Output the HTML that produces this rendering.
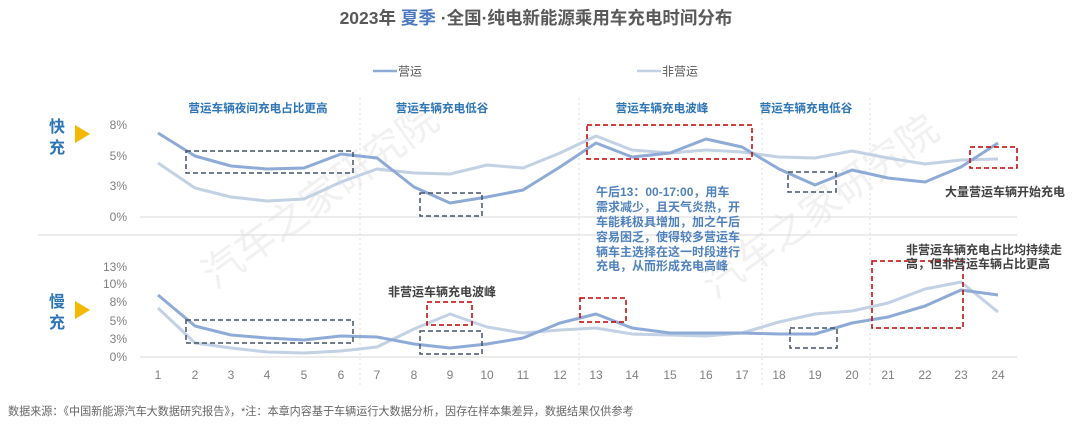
<!DOCTYPE html>
<html><head><meta charset="utf-8"><style>
html,body{margin:0;padding:0;background:#fff;}
svg{display:block;font-family:"Liberation Sans","Noto Sans CJK SC",sans-serif;}
</style></head><body>
<svg width="1080" height="425" viewBox="0 0 1080 425" xmlns="http://www.w3.org/2000/svg">
<rect width="1080" height="425" fill="#fff"/>
<!-- watermark -->
<g fill="#f1f1f1" font-size="40" font-family="'Liberation Sans','Noto Sans CJK SC',sans-serif">
<text x="0" y="0" transform="translate(215,290) rotate(-36)">汽车之家研究院</text>
<text x="0" y="0" transform="translate(715,300) rotate(-36)">汽车之家研究院</text>
</g>
<!-- title -->
<text x="536" y="24" text-anchor="middle" font-size="17.5" font-weight="bold" fill="#595959">2023年 <tspan fill="#4a78c2">夏季</tspan> ·全国·纯电新能源乘用车充电时间分布</text>
<!-- legend -->
<line x1="373" y1="71" x2="397" y2="71" stroke="#8eaad6" stroke-width="2.5"/>
<text x="398" y="75.5" font-size="12" fill="#595959">营运</text>
<line x1="637" y1="71" x2="661" y2="71" stroke="#c3d1e4" stroke-width="2.5"/>
<text x="662" y="75.5" font-size="12" fill="#595959">非营运</text>
<!-- vertical separators -->
<g stroke="#dcdcdc" stroke-width="1" stroke-dasharray="2,3">
<line x1="360" y1="98" x2="360" y2="385"/>
<line x1="579" y1="98" x2="579" y2="385"/>
<line x1="762" y1="98" x2="762" y2="385"/>
<line x1="870" y1="98" x2="870" y2="385"/>
</g>
<!-- section labels -->
<g font-size="11.6" font-weight="bold" fill="#2e75b6" text-anchor="middle">
<text x="258" y="112">营运车辆夜间充电占比更高</text>
<text x="442" y="112">营运车辆充电低谷</text>
<text x="662" y="112">营运车辆充电波峰</text>
<text x="806" y="112">营运车辆充电低谷</text>
</g>
<!-- left labels -->
<g font-size="16" font-weight="bold" fill="#2e75b6">
<text x="49" y="132">快</text>
<text x="49" y="153">充</text>
<text x="49" y="307">慢</text>
<text x="49" y="328">充</text>
</g>
<polygon points="75,125 90,134 75,143" fill="#f5b800"/>
<polygon points="75,301 90,310 75,319" fill="#f5b800"/>
<!-- axes lines -->
<g stroke="#d9d9d9" stroke-width="1">
<line x1="140" y1="217" x2="1017" y2="217"/>
<line x1="38" y1="235" x2="1017" y2="235"/>
<line x1="140" y1="357" x2="1017" y2="357"/>
</g>
<!-- y tick labels -->
<g font-size="12" fill="#7f7f7f" text-anchor="end">
<text x="127" y="129">8%</text>
<text x="127" y="160">5%</text>
<text x="127" y="190">3%</text>
<text x="127" y="221">0%</text>
<text x="127" y="271">13%</text>
<text x="127" y="288">10%</text>
<text x="127" y="306">8%</text>
<text x="127" y="325">5%</text>
<text x="127" y="343">3%</text>
<text x="127" y="361">0%</text>
</g>
<!-- x labels -->
<g font-size="12" fill="#7f7f7f" text-anchor="middle">
<text x="158" y="379">1</text><text x="195" y="379">2</text><text x="231" y="379">3</text><text x="267" y="379">4</text>
<text x="304" y="379">5</text><text x="341" y="379">6</text><text x="377" y="379">7</text><text x="414" y="379">8</text>
<text x="450" y="379">9</text><text x="487" y="379">10</text><text x="523" y="379">11</text><text x="560" y="379">12</text>
<text x="596" y="379">13</text><text x="632" y="379">14</text><text x="670" y="379">15</text><text x="706" y="379">16</text>
<text x="742" y="379">17</text><text x="779" y="379">18</text><text x="815" y="379">19</text><text x="852" y="379">20</text>
<text x="888" y="379">21</text><text x="925" y="379">22</text><text x="961" y="379">23</text><text x="998" y="379">24</text>
</g>
<!-- top chart series -->
<polyline fill="none" stroke="#c3d1e4" stroke-width="3" stroke-linejoin="round" points="158,163 195,188 231,197 267,201 304,199 341,182 377,169 414,173 450,174 487,165 523,168 560,153 596,136 632,150 670,153 706,150 742,152 779,157 815,158 852,151 888,158 925,164 961,160 998,159"/>
<polyline fill="none" stroke="#8eaad6" stroke-width="3" stroke-linejoin="round" points="158,133 195,156 231,166 267,169 304,168 341,154 377,158 414,187 450,203 487,197 523,190 560,167 596,143 632,157 670,153 706,139 742,147 779,169 815,185 852,170 888,178 925,182 961,167 998,143"/>
<!-- bottom chart series -->
<polyline fill="none" stroke="#c3d1e4" stroke-width="3" stroke-linejoin="round" points="158,308 195,343 231,348 267,352 304,353 341,351 377,347 414,329 450,314 487,327 523,333 560,330 596,328 632,334 670,335 706,336 742,333 779,322 815,314 852,311 888,303 925,289 961,282 998,312"/>
<polyline fill="none" stroke="#8eaad6" stroke-width="3" stroke-linejoin="round" points="158,295 195,326 231,335 267,338 304,340 341,336 377,337 414,344 450,348 487,344 523,338 560,323 596,314 632,328 670,333 706,333 742,333 779,334 815,334 852,323 888,317 925,306 961,290 998,295"/>
<!-- dashed boxes gray -->
<g fill="none" stroke="#44546a" stroke-width="1.5" stroke-dasharray="5,3">
<rect x="186" y="151" width="167" height="22"/>
<rect x="420" y="193" width="62" height="23"/>
<rect x="788" y="172" width="48" height="20"/>
<rect x="186" y="320" width="167" height="23"/>
<rect x="420" y="331" width="62" height="23"/>
<rect x="790" y="328" width="47" height="20"/>
</g>
<!-- dashed boxes red -->
<g fill="none" stroke="#c00000" stroke-width="1.5" stroke-dasharray="5,3">
<rect x="587" y="125" width="165" height="34"/>
<rect x="970" y="147" width="47" height="21"/>
<rect x="427" y="302" width="45" height="23"/>
<rect x="580" y="298" width="46" height="24"/>
<rect x="872" y="261" width="91" height="67"/>
</g>
<!-- annotations -->
<g font-size="12" font-weight="bold" fill="#4f81bd">
<text x="596" y="196">午后13：00-17:00，用车</text>
<text x="596" y="211">需求减少，且天气炎热，开</text>
<text x="596" y="226">车能耗极具增加，加之午后</text>
<text x="596" y="241">容易困乏，使得较多营运车</text>
<text x="596" y="256">辆车主选择在这一时段进行</text>
<text x="596" y="270">充电，从而形成充电高峰</text>
</g>
<g font-size="12" font-weight="bold" fill="#404040">
<text x="945" y="196">大量营运车辆开始充电</text>
<text x="906" y="254">非营运车辆充电占比均持续走</text>
<text x="906" y="268">高，但非营运车辆占比更高</text>
<text x="388" y="296">非营运车辆充电波峰</text>
</g>
<!-- footer -->
<text x="8" y="415" font-size="11.1" fill="#666">数据来源：《中国新能源汽车大数据研究报告》，*注：本章内容基于车辆运行大数据分析，因存在样本集差异，数据结果仅供参考</text>
</svg>
</body></html>
